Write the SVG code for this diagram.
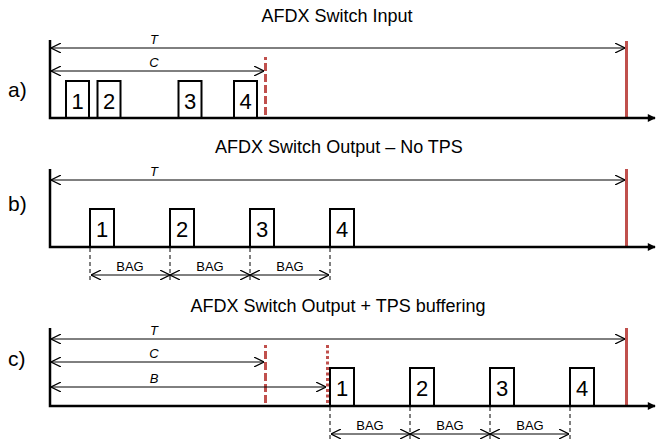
<svg xmlns="http://www.w3.org/2000/svg" width="668" height="441" viewBox="0 0 668 441">
<defs>
<marker id="open" viewBox="0 0 10 10" refX="10" refY="5" markerWidth="10" markerHeight="10" markerUnits="userSpaceOnUse" orient="auto-start-reverse">
<path d="M0,0 L10,5 L0,10" fill="none" stroke="#000" stroke-width="1.2"/>
</marker>
<marker id="solid" viewBox="0 0 10 10" refX="9" refY="5" markerWidth="9" markerHeight="8" markerUnits="userSpaceOnUse" orient="auto">
<path d="M0,0 L10,5 L0,10 z" fill="#000"/>
</marker>
<style>
.title{font-family:"Liberation Sans",Arial,sans-serif;font-size:18px;fill:#000;text-anchor:middle}
.panel{font-family:"Liberation Sans",Arial,sans-serif;font-size:21px;fill:#000}
.num{font-family:"Liberation Sans",Arial,sans-serif;font-size:22px;fill:#000;text-anchor:middle}
.lbl{font-family:"Liberation Sans",Arial,sans-serif;font-size:13px;font-style:italic;fill:#000;text-anchor:middle}
.bag{font-family:"Liberation Sans",Arial,sans-serif;font-size:13px;fill:#000;text-anchor:middle}
.axis{stroke:#000;stroke-width:2.5;fill:none}
.box{stroke:#000;stroke-width:2;fill:#fff}
.dim{stroke:#000;stroke-width:1;fill:none;marker-start:url(#open);marker-end:url(#open)}
.guide{stroke:#000;stroke-width:1;stroke-dasharray:4 3;fill:none}
.red{stroke:#C0504D;stroke-width:3;fill:none}
.reddash{stroke:#C0504D;stroke-width:3;stroke-dasharray:8 3;fill:none}
.reddot{stroke:#C0504D;stroke-width:3;stroke-dasharray:3 2.5;fill:none}
</style>
</defs>

<!-- Panel a -->
<g id="panel-a">
<text class="title" x="337" y="22">AFDX Switch Input</text>
<text class="panel" x="8" y="97">a)</text>
</g>
<g id="a-frames">
<g id="a-box1"><rect class="box" x="66" y="81" width="23" height="37"/><text class="num" x="77.5" y="109">1</text></g>
<g id="a-box2"><rect class="box" x="97.5" y="81" width="23" height="37"/><text class="num" x="109" y="109">2</text></g>
<g id="a-box3"><rect class="box" x="178.5" y="81" width="23" height="37"/><text class="num" x="190" y="109">3</text></g>
<g id="a-box4"><rect class="box" x="234" y="81" width="23" height="37"/><text class="num" x="245.5" y="109">4</text></g>
</g>

<!-- Panel b -->
<g id="panel-b">
<text class="title" x="339" y="153">AFDX Switch Output – No TPS</text>
<text class="panel" x="8" y="211">b)</text>
</g>
<g id="b-frames">
<g id="b-box1"><rect class="box" x="90" y="209" width="24" height="38"/><text class="num" x="102" y="237">1</text></g>
<g id="b-box2"><rect class="box" x="170" y="209" width="24" height="38"/><text class="num" x="182" y="237">2</text></g>
<g id="b-box3"><rect class="box" x="250" y="209" width="24" height="38"/><text class="num" x="262" y="237">3</text></g>
<g id="b-box4"><rect class="box" x="330" y="209" width="24" height="38"/><text class="num" x="342" y="237">4</text></g>
</g>

<!-- Panel c -->
<g id="panel-c">
<text class="title" x="338" y="312">AFDX Switch Output + TPS buffering</text>
<text class="panel" x="8" y="366">c)</text>
</g>
<g id="c-frames">
<g id="c-box1"><rect class="box" x="330" y="368" width="24" height="38"/><text class="num" x="342" y="396">1</text></g>
<g id="c-box2"><rect class="box" x="410" y="368" width="24" height="38"/><text class="num" x="422" y="396">2</text></g>
<g id="c-box3"><rect class="box" x="490" y="368" width="24" height="38"/><text class="num" x="502" y="396">3</text></g>
<g id="c-box4"><rect class="box" x="570" y="368" width="24" height="38"/><text class="num" x="582" y="396">4</text></g>
</g>

<g id="connectors">
<!-- a -->
<path class="red" d="M626.5,41 V118"/>
<path class="reddash" d="M265.5,57 V118" stroke-dashoffset="5"/>
<path class="axis" d="M50,40 V118 H655" marker-end="url(#solid)"/>
<path class="dim" d="M51,48 H625"/>
<text class="lbl" x="154" y="44">T</text>
<path class="dim" d="M51,71 H264"/>
<text class="lbl" x="154" y="67">C</text>

<!-- b -->
<path class="red" d="M626.5,169 V247"/>
<path class="axis" d="M50,169 V247 H655" marker-end="url(#solid)"/>
<path class="dim" d="M51,180 H625"/>
<text class="lbl" x="154" y="176">T</text>
<path class="guide" d="M90,248 V280 M170,248 V280 M250,248 V280 M330,248 V280"/>
<path class="dim" d="M91,275 H170"/>
<path class="dim" d="M170,275 H250"/>
<path class="dim" d="M250,275 H329"/>
<text class="bag" x="130" y="271">BAG</text>
<text class="bag" x="210" y="271">BAG</text>
<text class="bag" x="290" y="271">BAG</text>

<!-- c -->
<path class="red" d="M626.5,328 V406"/>
<path class="reddash" d="M265.5,345 V406" stroke-dashoffset="5"/>
<path class="reddot" d="M327.5,345 V406"/>
<path class="axis" d="M50,328 V406 H655" marker-end="url(#solid)"/>
<path class="dim" d="M51,339 H625"/>
<text class="lbl" x="154" y="335">T</text>
<path class="dim" d="M51,362 H264"/>
<text class="lbl" x="154" y="358">C</text>
<path class="dim" d="M51,387 H326"/>
<text class="lbl" x="154" y="383">B</text>
<path class="guide" d="M330,407 V440 M410,407 V440 M490,407 V440 M570,407 V440"/>
<path class="dim" d="M331,434 H410"/>
<path class="dim" d="M410,434 H490"/>
<path class="dim" d="M490,434 H569"/>
<text class="bag" x="370" y="430">BAG</text>
<text class="bag" x="450" y="430">BAG</text>
<text class="bag" x="530" y="430">BAG</text>
</g>
</svg>
